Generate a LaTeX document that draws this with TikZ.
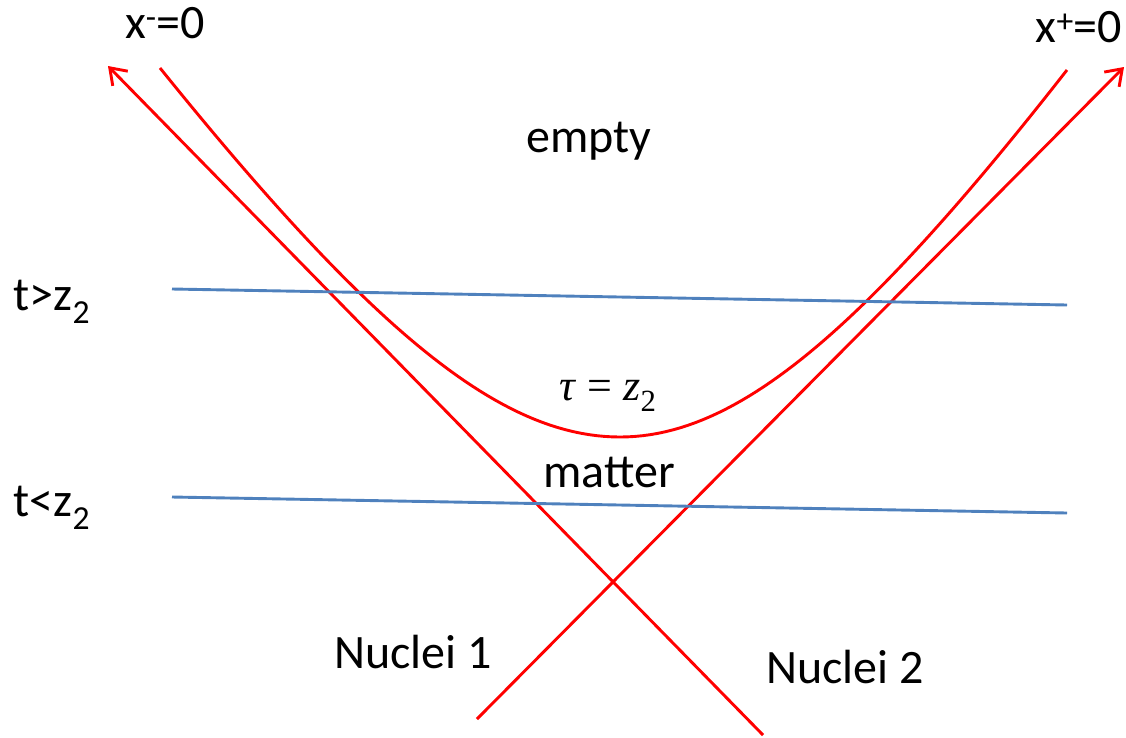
\documentclass[tikz,border=0pt]{standalone}
\usepackage{fontspec}
\setmainfont{Carlito}
\newfontfamily\mathserif{Liberation Serif}
\usepackage{tikz}
\usetikzlibrary{arrows.meta,positioning}

\definecolor{worldred}{RGB}{255,0,0}
\definecolor{sliceblue}{RGB}{79,129,189}

\begin{document}
\begin{tikzpicture}[
  x=1pt, y=-1pt,
  every node/.style={inner sep=0pt, font=\fontsize{48}{56}\selectfont},
  lightcone/.style={draw=worldred, line width=2.9pt},
  conearrow/.style={lightcone, -{Straight Barb[length=15pt, width=21pt, line width=2.9pt]}},
  timeslice/.style={draw=sliceblue, line width=2.9pt},
  tag/.style={anchor=base}
]
  \useasboundingbox (0,0) rectangle (1126,737);

  % Light-cone lines of the two nuclei
  \coordinate (nucA0) at (477,719);
  \coordinate (nucA1) at (1124,67);
  \coordinate (nucB0) at (763,735);
  \coordinate (nucB1) at (108,66);
  \draw[conearrow] (nucA0) -- (nucA1);
  \draw[conearrow] (nucB0) -- (nucB1);

  % Hyperbola tau = z2
  \draw[lightcone] plot[domain=-4.6:0, samples=60] ({620+100*\x}, {437-148.1*(sqrt(9+\x*\x)-3)})
    -- plot[domain=0:4.47, samples=60] ({620+100*\x}, {437-154*(sqrt(9+\x*\x)-3)});

  % Constant time slices
  \coordinate (late0) at (172,289);
  \coordinate (late1) at (1067,305);
  \coordinate (early0) at (172,497);
  \coordinate (early1) at (1067,513);
  \draw[timeslice] (late0) -- (late1);
  \draw[timeslice] (early0) -- (early1);

  % Labels
  \node[tag] (xminus) at (165,38) {x\textsuperscript{-}=0};
  \node[tag] (xplus) at (1079,42) {x\textsuperscript{+}=0};
  \node[tag] (empty) at (589,152) {empty};
  \node[tag] (tlate) at (52,310) {t>z\textsubscript{2}};
  \node[tag] (tearly) at (52,516) {t<z\textsubscript{2}};
  \node[tag, font=\fontsize{44}{50}\mathserif] (tau) at (608,400) {\textit{τ} = \textit{z}\textsubscript{2}};
  \node[tag] (matter) at (609,487) {matter};
  \node[tag] (nuc1) at (413,668) {Nuclei 1};
  \node[tag] (nuc2) at (845,683) {Nuclei 2};
\end{tikzpicture}
\end{document}
